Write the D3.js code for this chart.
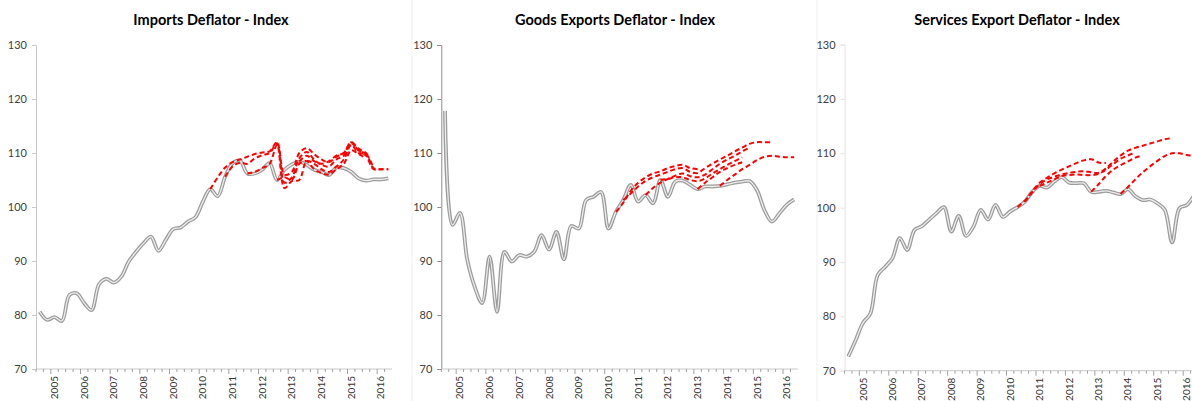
<!DOCTYPE html>
<html>
<head>
<meta charset="utf-8">
<script src="https://cdn.jsdelivr.net/npm/d3@7"></script>
<style>
  html, body { margin: 0; padding: 0; background: #fff; }
  svg { display: block; font-family: Lato, "Open Sans", sans-serif; }
</style>
</head>
<body>
<div id="chart"></div>
<script>
// quarterly categories 2004Q3 .. 2016Q2
const quarters = [];
for (let y = 2004; y <= 2016; y++) {
  for (let q = 1; q <= 4; q++) {
    if ((y === 2004 && q < 3) || (y === 2016 && q > 2)) continue;
    quarters.push(y + "Q" + q);
  }
}
const yearLabels = ["2005", "2006", "2007", "2008", "2009", "2010", "2011", "2012", "2013", "2014", "2015", "2016"];
const yTicks = [70, 80, 90, 100, 110, 120, 130];

// Imports deflator
const importsActual = [80.6, 79.1, 79.6, 78.9, 83.7, 84.0, 82.2, 80.9, 85.7, 86.7, 86.0, 87.1, 89.9, 91.7, 93.3, 94.5,
  91.9, 93.9, 95.9, 96.2, 97.3, 98.1, 101.0, 103.3, 102.0, 105.6, 108.1, 108.6, 106.2, 106.2, 106.9, 108.1,
  105.0, 106.9, 107.9, 108.4, 107.8, 106.9, 106.5, 105.9, 107.3, 107.2, 106.5, 105.3, 104.9, 105.1, 105.1, 105.3];
const impF1 = [103.3, 105.5, 107.3, 108.3, 108.8, 109.3, 109.8, 110.1, 110.3, 112.0, 106.0, 106.5, 110.0, 110.9, 109.8, 108.8, 108.3, 109.3, 110.0, 112.0, 110.8, 110.0, 107.2, 107.0, 107.0];
const impF2 = [105.6, 107.5, 108.2, 108.0, 109.0, 109.6, 110.0, 111.8, 104.5, 105.5, 109.0, 110.2, 108.8, 107.8, 107.5, 108.8, 109.5, 111.8, 110.5, 109.5, 107.0, 107.0, 107.0];
const impF3 = [106.2, 106.5, 107.2, 108.0, 111.5, 103.5, 104.8, 105.0, 108.5, 108.0, 107.0, 106.5, 107.5, 108.8, 111.5, 110.0, 109.8, 107.2];
const impF4 = [105.0, 105.5, 105.0, 108.0, 108.5, 107.0, 106.3, 106.0, 107.0, 108.0, 110.5, 109.8, 109.0];
const impF5 = [108.4, 109.5, 108.5, 108.0, 108.5, 109.5, 110.0, 112.0, 110.5, 110.0];
const impStarts = [23, 25, 28, 32, 35];

// Goods exports deflator
const goodsActual = [117.8, 96.7, 98.9, 90.2, 85.2, 82.2, 90.8, 80.6, 91.7, 89.9, 91.1, 90.8, 91.7, 94.8, 92.1, 95.4,
  90.3, 96.5, 96.0, 101.3, 101.9, 102.8, 96.0, 99.1, 101.3, 104.1, 101.0, 102.2, 100.7, 105.0, 101.9, 104.7,
  104.9, 104.1, 103.3, 103.8, 103.8, 103.9, 104.2, 104.5, 104.7, 104.8, 103.1, 99.4, 97.3, 98.8, 100.4, 101.4];
const gdsF1 = [99.1, 100.8, 103.0, 104.5, 105.5, 106.2, 106.6, 107.2, 107.6, 107.8, 107.2, 107.0];
const gdsF2 = [101.3, 102.5, 103.8, 104.8, 105.5, 106.0, 106.5, 107.0, 107.2, 106.5, 106.3, 107.2, 108.0, 108.8, 109.5, 110.3, 111.0, 111.7, 112.0, 112.0, 112.0];
const gdsF3 = [102.2, 103.5, 104.5, 105.2, 105.8, 106.2, 105.7, 105.5, 106.0, 107.0, 108.0, 108.8, 109.5, 110.3, 111.0];
const gdsF4 = [105.0, 105.2, 105.5, 105.5, 105.0, 104.8, 105.3, 106.2, 107.0, 107.8, 108.5, 109.2];
const gdsF5 = [103.3, 104.5, 105.5, 106.5, 107.2, 107.8, 108.3];
const gdsF6 = [103.9, 105.0, 106.0, 107.0, 107.8, 108.7, 109.3, 109.5, 109.3, 109.2, 109.2];
const gdsStarts = [23, 24, 27, 29, 34, 37];

// Services export deflator
const servicesActual = [72.6, 75.6, 78.8, 80.5, 87.6, 89.1, 90.7, 94.4, 92.2, 95.9, 96.6, 97.8, 99.0, 100.1, 95.6, 98.5,
  94.8, 96.5, 99.6, 97.8, 100.5, 98.3, 99.3, 100.1, 101.1, 102.9, 104.0, 103.7, 104.8, 105.6, 104.6, 104.5,
  104.5, 102.9, 102.9, 103.1, 102.8, 102.5, 103.4, 102.1, 101.4, 101.5, 100.8, 99.6, 93.6, 99.9, 100.5, 102.3];
const svcF1 = [100.1, 101.3, 103.0, 104.6, 105.5, 106.3, 107.0, 107.6, 108.2, 108.7, 108.9, 108.3, 108.2];
const svcF2 = [101.1, 102.8, 104.3, 105.2, 105.7, 106.1, 106.4, 106.6, 106.7, 106.5, 106.4, 107.2, 108.5, 109.6, 110.5, 111.0, 111.4, 111.8, 112.2, 112.6, 112.8];
const svcF3 = [104.0, 104.6, 105.2, 105.8, 106.0, 106.1, 106.0, 106.0, 106.2, 107.0, 108.0, 109.0, 109.6, 110.2];
const svcF4 = [102.9, 104.3, 105.8, 107.0, 107.8, 108.5, 109.2, 109.6];
const svcF5 = [102.5, 103.8, 105.2, 106.5, 107.6, 108.6, 109.5, 110.0, 110.0, 109.7, 109.4];
const svcStarts = [23, 24, 26, 33, 37];

const panels = [
  { title: "Imports Deflator - Index", titleX: 211, left: 36, right: 392, top: 45, bottom: 369,
    axisColor: "#c8c8c8", actual: importsActual, fc: [impF1, impF2, impF3, impF4, impF5], starts: impStarts },
  { title: "Goods Exports Deflator - Index", titleX: 615, left: 441.3, right: 797.9, top: 45, bottom: 369,
    axisColor: "#8c8c8c", actual: goodsActual, fc: [gdsF1, gdsF2, gdsF3, gdsF4, gdsF5, gdsF6], starts: gdsStarts },
  { title: "Services Export Deflator - Index", titleX: 1017, left: 844.6, right: 1197.9, top: 44.6, bottom: 370.7,
    axisColor: "#e3e3e3", actual: servicesActual, fc: [svcF1, svcF2, svcF3, svcF4, svcF5], starts: svcStarts }
];

const width = 1192, height = 401;
const svg = d3.select("#chart").append("svg")
  .attr("width", width)
  .attr("height", height);

svg.append("rect").attr("width", width).attr("height", height).attr("fill", "#fff");

// faint chart-area borders between panels
[412, 817].forEach(x => {
  svg.append("line").attr("x1", x).attr("x2", x).attr("y1", 0).attr("y2", height)
    .attr("stroke", "#f0f0f0").attr("stroke-width", 1);
});

panels.forEach(p => {
  const g = svg.append("g");
  const x = d3.scalePoint().domain(quarters).range([p.left, p.right]).padding(0.5);
  const y = d3.scaleLinear().domain([70, 130]).range([p.bottom, p.top]);
  const step = x.step();

  // title
  g.append("text")
    .attr("x", p.titleX).attr("y", 25)
    .attr("text-anchor", "middle")
    .attr("font-size", 14.5).attr("font-weight", "bold")
    .attr("fill", "#000")
    .text(p.title);

  // y axis
  const yAxis = d3.axisLeft(y).tickValues(yTicks).tickSize(4).tickPadding(5);
  const ya = g.append("g").attr("transform", `translate(${p.left},0)`).call(yAxis);
  ya.select(".domain").attr("stroke", p.axisColor);
  ya.selectAll(".tick line").attr("stroke", p.axisColor);
  ya.selectAll(".tick text").attr("font-size", 11).attr("fill", "#404040")
    .attr("font-family", "Lato, sans-serif");

  // x axis line + quarter ticks
  g.append("line").attr("x1", p.left).attr("x2", p.right)
    .attr("y1", p.bottom).attr("y2", p.bottom)
    .attr("stroke", "#c8c8c8");
  g.selectAll(".qtick").data(quarters).join("line")
    .attr("x1", d => x(d) - step / 2).attr("x2", d => x(d) - step / 2)
    .attr("y1", p.bottom).attr("y2", d => d.endsWith("Q1") ? p.bottom + 5 : p.bottom + 3)
    .attr("stroke", "#a0a0a0");

  // year labels (rotated), centred on Q1 of each year
  g.selectAll(".ylab").data(yearLabels).join("text")
    .attr("transform", d => `translate(${x(d + "Q1")},${p.bottom + 7}) rotate(-90)`)
    .attr("dy", "0.35em")
    .attr("text-anchor", "end")
    .attr("font-size", 10).attr("fill", "#333")
    .text(d => d);

  const line = d3.line()
    .x(d => x(d.q))
    .y(d => y(d.v))
    .curve(d3.curveCatmullRom.alpha(0.5));

  // actual (gray double line)
  const act = p.actual.map((v, i) => ({ q: quarters[i], v }));
  g.append("path").datum(act).attr("d", line)
    .attr("fill", "none").attr("stroke", "#9c9c9c").attr("stroke-width", 3.8);
  g.append("path").datum(act).attr("d", line)
    .attr("fill", "none").attr("stroke", "#ededed").attr("stroke-width", 1.3);

  // forecasts (red dashed), drawn over the actuals
  p.fc.forEach((vals, k) => {
    const pts = vals.map((v, i) => ({ q: quarters[p.starts[k] + i], v }));
    g.append("path").datum(pts)
      .attr("d", line)
      .attr("fill", "none")
      .attr("stroke", "#ff0000")
      .attr("stroke-width", 2)
      .attr("stroke-dasharray", "5,3");
  });
});
</script>
</body>
</html>
